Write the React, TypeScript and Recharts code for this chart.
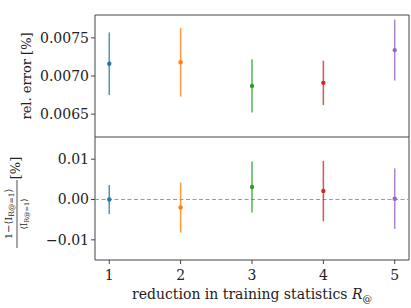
import { ScatterChart, Scatter, XAxis, YAxis, ErrorBar, ReferenceLine, ReferenceArea } from 'recharts'

// reduction factors on the x axis
const reductions = [1, 2, 3, 4, 5]
const seriesColors = ['#1f77b4', '#ff7f0e', '#2ca02c', '#d62728', '#9467bd']

// top panel: relative error
const relError = [0.00716, 0.00718, 0.00687, 0.00691, 0.00734]
const relErrorUnc = [0.00041, 0.00045, 0.00035, 0.00029, 0.0004]

// bottom panel: deviation wrt R@=1
const relDiff = [0.0, -0.002, 0.0031, 0.0021, 0.0002]
const relDiffUnc = [0.0036, 0.0062, 0.0063, 0.0075, 0.0075]

const topTicks = [0.0065, 0.007, 0.0075]
const bottomTicks = [-0.01, 0, 0.01]
const xTicks = [1, 2, 3, 4, 5]

const FONT = 'DejaVu Serif'
const AXIS = '#444'
const X_DOMAIN: [number, number] = [0.8, 5.2]
const TOP_DOMAIN: [number, number] = [0.0062, 0.0078]
const BOTTOM_DOMAIN: [number, number] = [-0.015, 0.0155]

const tickStyle = { fontFamily: FONT, fontSize: 14, fill: '#222' }

const dot = (color: string) => (props: any) => (
  <circle cx={props.cx} cy={props.cy} r={2.2} fill={color} />
)

const fmtSigned = (v: number) => {
  const s = Math.abs(v).toFixed(2)
  return v < 0 ? '\u2212' + s : s
}

function TopLabel() {
  return (
    <g transform="translate(31,76) rotate(-90)">
      <text x={0} y={0} textAnchor="middle" fontFamily={FONT} fontSize={13} fill="#222">
        rel. error [%]
      </text>
    </g>
  )
}

// coordinates are inside the lower chart, which starts at y=137
function BottomLabel() {
  return (
    <g>
      <g transform="translate(17,77) rotate(-90)">
        <text x={0} y={-5} textAnchor="middle" fontFamily={FONT} fontSize={10} fill="#222">
          1−⟨I
          <tspan fontSize={7.5} dy={2}>R@=1</tspan>
          <tspan dy={-2}>⟩</tspan>
        </text>
        <line x1={-34} x2={34} y1={0} y2={0} stroke="#222" strokeWidth={0.8} />
        <text x={0} y={10} textAnchor="middle" fontFamily={FONT} fontSize={8.5} fill="#222">
          ⟨I
          <tspan fontSize={6.5} dy={2}>R@=1</tspan>
          <tspan dy={-2}>⟩</tspan>
        </text>
      </g>
      <g transform="translate(17,31) rotate(-90)">
        <text x={0} y={3} textAnchor="middle" fontFamily={FONT} fontSize={13} fill="#222">
          [%]
        </text>
      </g>
    </g>
  )
}

const XLabel = (props: any) => {
  const vb = props.viewBox
  return (
    <text x={vb.x + vb.width / 2} y={vb.y + 39} textAnchor="middle" fontFamily={FONT} fontSize={14} fill="#222">
      reduction in training statistics <tspan fontStyle="italic">R</tspan>
      <tspan fontSize={9.5} dy={3}>@</tspan>
    </text>
  )
}

export default function App() {
  return (
    <div style={{ position: 'absolute', left: 0, top: 0, width: 411, height: 308, background: '#fff' }}>
      <div style={{ position: 'absolute', left: 0, top: 0 }}>
        <ScatterChart width={411} height={137} margin={{ top: 15, right: 2, bottom: 0, left: 0 }}>
          <XAxis type="number" dataKey="x" domain={X_DOMAIN} ticks={xTicks} hide allowDataOverflow />
          <YAxis
            type="number"
            dataKey="y"
            domain={TOP_DOMAIN}
            ticks={topTicks}
            width={95}
            allowDataOverflow
            axisLine={false}
            tickLine={{ stroke: AXIS }}
            tickSize={4}
            tick={tickStyle}
            tickFormatter={(v: number) => v.toFixed(4)}
            label={{ content: () => <TopLabel /> }}
          />
          <ReferenceArea x1={X_DOMAIN[0]} x2={X_DOMAIN[1]} y1={TOP_DOMAIN[0]} y2={TOP_DOMAIN[1]} fill="none" stroke={AXIS} strokeWidth={1} />
          {reductions.map((r, i) => (
            <Scatter
              key={r}
              data={[{ x: r, y: relError[i], err: relErrorUnc[i] }]}
              fill={seriesColors[i]}
              shape={dot(seriesColors[i])}
              isAnimationActive={false}
            >
              <ErrorBar dataKey="err" direction="y" width={0} stroke={seriesColors[i]} strokeOpacity={0.8} strokeWidth={1.5} isAnimationActive={false} />
            </Scatter>
          ))}
        </ScatterChart>
      </div>
      <div style={{ position: 'absolute', left: 0, top: 137 }}>
        <ScatterChart width={411} height={171} margin={{ top: 0, right: 2, bottom: 0, left: 0 }}>
          <XAxis
            type="number"
            dataKey="x"
            domain={X_DOMAIN}
            ticks={xTicks}
            allowDataOverflow
            height={48}
            axisLine={false}
            tickLine={{ stroke: AXIS }}
            tickSize={4}
            tickMargin={6}
            tick={tickStyle}
            label={{ content: XLabel }}
          />
          <YAxis
            type="number"
            dataKey="y"
            domain={BOTTOM_DOMAIN}
            ticks={bottomTicks}
            width={95}
            allowDataOverflow
            axisLine={false}
            tickLine={{ stroke: AXIS }}
            tickSize={4}
            tick={tickStyle}
            tickFormatter={fmtSigned}
            label={{ content: () => <BottomLabel /> }}
          />
          <ReferenceLine y={0} stroke="#999" strokeDasharray="4 2.5" strokeWidth={1} />
          <ReferenceArea x1={X_DOMAIN[0]} x2={X_DOMAIN[1]} y1={BOTTOM_DOMAIN[0]} y2={BOTTOM_DOMAIN[1]} fill="none" stroke={AXIS} strokeWidth={1} />
          {reductions.map((r, i) => (
            <Scatter
              key={r}
              data={[{ x: r, y: relDiff[i], err: relDiffUnc[i] }]}
              fill={seriesColors[i]}
              shape={dot(seriesColors[i])}
              isAnimationActive={false}
            >
              <ErrorBar dataKey="err" direction="y" width={0} stroke={seriesColors[i]} strokeOpacity={0.8} strokeWidth={1.5} isAnimationActive={false} />
            </Scatter>
          ))}
        </ScatterChart>
      </div>
    </div>
  )
}
